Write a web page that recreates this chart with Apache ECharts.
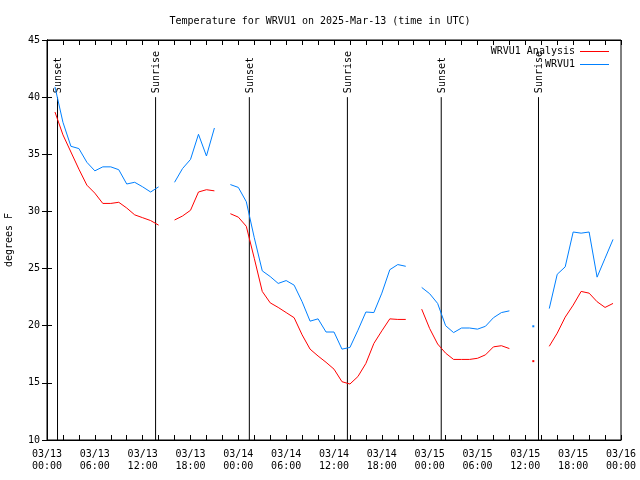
<!DOCTYPE html>
<html>
<head>
<meta charset="utf-8">
<script src="https://cdn.jsdelivr.net/npm/echarts@6/dist/echarts.min.js"></script>
<style>html,body{margin:0;padding:0;background:#fff}#c{width:640px;height:480px}</style>
</head>
<body>
<div id="c"></div>
<script>
// hours since 2025-03-13 00:00 UTC
const hours = [1,2,3,4,5,6,7,8,9,10,11,12,13,14,15,16,17,18,19,20,21,22,23,24,25,26,27,28,29,30,31,32,33,34,35,36,37,38,39,40,41,42,43,44,45,46,47,48,49,50,51,52,53,54,55,56,57,58,59,60,61,62,63,64,65,66,67,68,69,70,71];
const analysis = [38.7,36.7,35.2,33.7,32.3,31.6,30.7,30.7,30.8,30.3,29.7,29.45,29.2,28.8,null,
  29.25,29.6,30.1,31.7,31.9,31.8,null,
  29.8,29.5,28.7,25.9,23.0,22.0,21.6,21.15,20.7,19.2,17.95,17.35,16.8,16.2,15.1,14.9,15.55,16.7,18.45,19.55,20.6,20.55,20.55,null,
  21.45,19.75,18.4,17.6,17.05,17.05,17.05,17.15,17.45,18.15,18.25,18.0,null,null,
  16.9,null,
  18.2,19.35,20.75,21.8,23.0,22.85,22.1,21.6,21.95];
const observed = [40.9,37.8,35.7,35.5,34.3,33.55,33.9,33.9,33.65,32.4,32.55,32.15,31.7,32.15,null,
  32.55,33.75,34.55,36.75,34.85,37.3,null,
  32.35,32.1,30.85,27.7,24.8,24.3,23.7,23.95,23.55,22.1,20.4,20.6,19.45,19.45,17.95,18.1,19.6,21.2,21.15,22.85,24.9,25.35,25.2,null,
  23.35,22.8,21.95,20.0,19.4,19.8,19.8,19.7,19.95,20.7,21.15,21.3,null,null,
  19.95,null,
  21.5,24.5,25.15,28.2,28.1,28.2,24.25,25.9,27.55];
const sunHours = [1.32,13.62,25.38,37.68,49.45,61.65];
const sunLabels = ['Sunset','Sunrise','Sunset','Sunrise','Sunset','Sunrise'];
const sunTop = 40;
const yTicks = [10,15,20,25,30,35,40,45];
const baseTime = Date.UTC(2025,2,13,0,0);

const FONT = 'DejaVu Sans Mono';
const pad = n => (n < 10 ? '0' : '') + n;
function fmtHour(h){
  const d = new Date(baseTime + h*3600000);
  return pad(d.getUTCMonth()+1)+'/'+pad(d.getUTCDate())+'\n'+pad(d.getUTCHours())+':'+pad(d.getUTCMinutes());
}
function pairs(vals){ return hours.map((h,i)=>[h, vals[i]]); }
function isolatedSize(vals){
  return function(v, p){
    const i = p.dataIndex;
    const prev = i>0 ? vals[i-1] : null, next = i<vals.length-1 ? vals[i+1] : null;
    return (vals[i] != null && prev == null && next == null) ? 2 : 0;
  };
}

const chart = echarts.init(document.getElementById('c'), null, {renderer:'canvas'});
const axisBase = {
  type:'value', min:0, max:72, interval:6,
  axisLine:{show:true, lineStyle:{color:'#000', width:1}},
  axisTick:{show:true, inside:true, length:5, lineStyle:{color:'#000'}},
  minorTick:{show:true, splitNumber:3, length:5, lineStyle:{color:'#000'}},
  splitLine:{show:false}
};
const yBase = {
  type:'value', min:yTicks[0], max:yTicks[yTicks.length-1], interval:5,
  axisLine:{show:true, lineStyle:{color:'#000', width:1}},
  axisTick:{show:true, inside:true, length:5, lineStyle:{color:'#000'}},
  splitLine:{show:false}
};
chart.setOption({
  animation:false,
  backgroundColor:'#fff',
  title:{
    text:'Temperature for WRVU1 on 2025-Mar-13 (time in UTC)',
    left:'center', top:11,
    textStyle:{fontFamily:FONT, fontSize:10, fontWeight:'normal', color:'#000'}
  },
  legend:{
    orient:'vertical', right:26, top:41, align:'right',
    icon:'rect', itemWidth:29, itemHeight:1, itemGap:2,
    textStyle:{fontFamily:FONT, fontSize:10, color:'#000', lineHeight:11},
    data:['WRVU1 Analysis','WRVU1']
  },
  grid:{left:47, right:19, top:40, bottom:40, show:true, borderColor:'#000', borderWidth:1, containLabel:false, outerBoundsMode:'none'},
  xAxis:[
    Object.assign({}, axisBase, {position:'bottom',
      axisLabel:{show:true, margin:8, fontFamily:FONT, fontSize:10, color:'#000', lineHeight:12, formatter:fmtHour}}),
    Object.assign({}, axisBase, {position:'top', axisLabel:{show:false}})
  ],
  yAxis:[
    Object.assign({}, yBase, {position:'left', name:'degrees F', nameLocation:'middle', nameGap:33,
      nameTextStyle:{fontFamily:FONT, fontSize:10, color:'#000'},
      axisLabel:{show:true, margin:7, fontFamily:FONT, fontSize:10, color:'#000'}}),
    Object.assign({}, yBase, {position:'right', axisLabel:{show:false}})
  ],
  series:[
    {
      name:'WRVU1 Analysis', type:'line', data:pairs(analysis),
      connectNulls:false, showSymbol:true, symbol:'rect', symbolSize:isolatedSize(analysis),
      lineStyle:{color:'#ff0000', width:1}, itemStyle:{color:'#ff0000'},
      emphasis:{disabled:true}, z:3
    },
    {
      name:'WRVU1', type:'line', data:pairs(observed),
      connectNulls:false, showSymbol:true, symbol:'rect', symbolSize:isolatedSize(observed),
      lineStyle:{color:'#0080ff', width:1}, itemStyle:{color:'#0080ff'},
      emphasis:{disabled:true}, z:3
    },
    {
      type:'custom', silent:true, z:2,
      data:sunHours.map(h=>[h, sunTop]),
      renderItem:function(params, api){
        const h = api.value(0);
        const p0 = api.coord([h, yTicks[0]]);
        const p1 = api.coord([h, api.value(1)]);
        return {
          type:'group',
          children:[
            {type:'line', shape:{x1:p0[0], y1:p0[1], x2:p1[0], y2:p1[1]}, style:{stroke:'#000', lineWidth:1}},
            {type:'text', x:p1[0]+1, y:p1[1]-4, rotation:Math.PI/2,
              style:{text:sunLabels[params.dataIndex], fill:'#000', font:'10px "'+FONT+'"', align:'left', verticalAlign:'middle'}}
          ]
        };
      }
    }
  ]
});
</script>
</body>
</html>
